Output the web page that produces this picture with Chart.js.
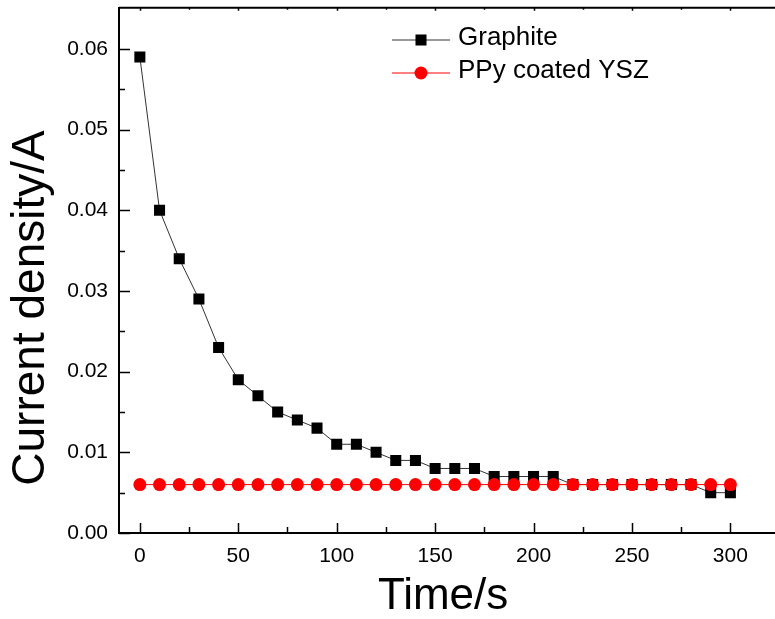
<!DOCTYPE html>
<html>
<head>
<meta charset="utf-8">
<script src="https://cdn.jsdelivr.net/npm/chart.js@4/dist/chart.umd.min.js"></script>
<style>
html, body { margin: 0; padding: 0; background: #fff; overflow: hidden; }
</style>
</head>
<body>
<canvas id="chart" width="775" height="619"></canvas>
<script>
// data
const times = [0, 10, 20, 30, 40, 50, 60, 70, 80, 90, 100, 110, 120, 130, 140, 150,
    160, 170, 180, 190, 200, 210, 220, 230, 240, 250, 260, 270, 280, 290, 300];
const graphite = [0.059, 0.040, 0.034, 0.029, 0.023, 0.019, 0.017, 0.015, 0.014, 0.013,
    0.011, 0.011, 0.010, 0.009, 0.009, 0.008, 0.008, 0.008, 0.007, 0.007, 0.007, 0.007,
    0.006, 0.006, 0.006, 0.006, 0.006, 0.006, 0.006, 0.005, 0.005];
const ppyYsz = [0.006, 0.006, 0.006, 0.006, 0.006, 0.006, 0.006, 0.006, 0.006, 0.006,
    0.006, 0.006, 0.006, 0.006, 0.006, 0.006, 0.006, 0.006, 0.006, 0.006, 0.006, 0.006,
    0.006, 0.006, 0.006, 0.006, 0.006, 0.006, 0.006, 0.006, 0.006];
const xTicks = [0, 50, 100, 150, 200, 250, 300];
const yTicks = [0, 0.01, 0.02, 0.03, 0.04, 0.05, 0.06];
const seriesNames = ['Graphite', 'PPy coated YSZ'];

const FONT = 'Liberation Sans, Arial, sans-serif';

const toXY = (ys) => times.map((t, i) => ({x: t, y: ys[i]}));

// frame lines run off the right edge like the cropped original;
// inward ticks on bottom/left, small mirror ticks on top
const frameTicks = {
    id: 'frameTicks',
    afterDraw(chart) {
        const {ctx, chartArea: a, scales: {x, y}} = chart;
        ctx.save();
        ctx.strokeStyle = '#000';
        ctx.lineWidth = 2;
        ctx.beginPath();
        ctx.moveTo(a.left, a.top);
        ctx.lineTo(chart.width, a.top);
        ctx.moveTo(a.left - 1, a.bottom);
        ctx.lineTo(chart.width, a.bottom);
        ctx.stroke();

        ctx.lineWidth = 1.5;
        const xMinor = [];
        for (let i = 0; i < xTicks.length - 1; i++) xMinor.push((xTicks[i] + xTicks[i + 1]) / 2);
        const yMinor = [];
        for (let i = 0; i < yTicks.length - 1; i++) yMinor.push((yTicks[i] + yTicks[i + 1]) / 2);

        ctx.beginPath();
        xTicks.forEach(v => {
            const px = Math.round(x.getPixelForValue(v)) + 0.5;
            ctx.moveTo(px, a.bottom); ctx.lineTo(px, a.bottom - 10);
            ctx.moveTo(px, a.top); ctx.lineTo(px, a.top + 3);
        });
        xMinor.forEach(v => {
            const px = Math.round(x.getPixelForValue(v)) + 0.5;
            ctx.moveTo(px, a.bottom); ctx.lineTo(px, a.bottom - 6);
            ctx.moveTo(px, a.top); ctx.lineTo(px, a.top + 2);
        });
        yTicks.forEach(v => {
            const py = Math.round(y.getPixelForValue(v)) + 0.5;
            ctx.moveTo(a.left, py); ctx.lineTo(a.left + 11, py);
        });
        yMinor.forEach(v => {
            const py = Math.round(y.getPixelForValue(v)) + 0.5;
            ctx.moveTo(a.left, py); ctx.lineTo(a.left + 6, py);
        });
        ctx.stroke();

        // rotated y axis title, placed as in the reference
        ctx.fillStyle = '#000';
        ctx.font = '46px ' + FONT;
        ctx.textAlign = 'center';
        ctx.textBaseline = 'middle';
        ctx.translate(31, 308);
        ctx.rotate(-Math.PI / 2);
        ctx.fillText('Current density/A', 0, 0);
        ctx.restore();
    }
};

// legend drawn with each dataset's own styles
const boxLegend = {
    id: 'boxLegend',
    afterDraw(chart) {
        const {ctx} = chart;
        const rows = [40, 73];
        ctx.save();
        chart.data.datasets.forEach((ds, i) => {
            const ly = rows[i];
            ctx.strokeStyle = ds.borderColor;
            ctx.lineWidth = ds.borderWidth;
            ctx.beginPath();
            ctx.moveTo(392, ly);
            ctx.lineTo(450, ly);
            ctx.stroke();
            ctx.fillStyle = ds.pointBackgroundColor;
            ctx.strokeStyle = ds.pointBorderColor;
            Chart.helpers.drawPoint(ctx, {
                pointStyle: ds.pointStyle,
                radius: ds.pointRadius,
                rotation: 0,
                borderWidth: 0,
            }, 421, ly);
            ctx.fillStyle = '#000';
            ctx.font = '26px ' + FONT;
            ctx.textAlign = 'left';
            ctx.textBaseline = 'middle';
            ctx.fillText(ds.label, 458, ly - 2);
        });
        ctx.restore();
    }
};

const ctx = document.getElementById('chart').getContext('2d');
new Chart(ctx, {
    type: 'line',
    data: {
        datasets: [{
            label: seriesNames[0],
            data: toXY(graphite),
            borderColor: '#333333',
            borderWidth: 1,
            pointStyle: 'rect',
            pointRadius: 7.8,
            pointBackgroundColor: '#000000',
            pointBorderColor: '#000000',
            pointBorderWidth: 0,
            tension: 0,
            order: 1,
        }, {
            label: seriesNames[1],
            data: toXY(ppyYsz),
            borderColor: '#ff0000',
            borderWidth: 1,
            pointStyle: 'circle',
            pointRadius: 6.5,
            pointBackgroundColor: '#ff0000',
            pointBorderColor: '#ff0000',
            pointBorderWidth: 0,
            tension: 0,
            order: 0,
        }],
    },
    options: {
        responsive: false,
        animation: false,
        devicePixelRatio: 1,
        layout: {padding: {top: 7, right: 0, left: 0, bottom: 0}},
        plugins: {
            legend: {display: false},
            tooltip: {enabled: false},
        },
        scales: {
            x: {
                type: 'linear',
                min: -10.6,
                max: 318.7,
                afterFit: (s) => {
                    s.height = 86;
                    s.paddingLeft = 0;
                    s.paddingRight = 0;
                },
                afterBuildTicks: (s) => { s.ticks = xTicks.map(v => ({value: v})); },
                grid: {display: false, drawTicks: false},
                border: {display: false},
                ticks: {
                    padding: 11,
                    color: '#000',
                    font: {family: FONT, size: 21},
                    maxRotation: 0,
                    callback: (v) => String(v),
                },
                title: {
                    display: true,
                    text: 'Time/s',
                    color: '#000',
                    font: {family: FONT, size: 44, lineHeight: 1},
                    padding: {top: 0, bottom: 0},
                },
            },
            y: {
                type: 'linear',
                min: 0,
                max: 0.0651,
                afterFit: (s) => {
                    s.width = 119;
                    s.paddingTop = 0;
                    s.paddingBottom = 0;
                },
                afterBuildTicks: (s) => { s.ticks = yTicks.map(v => ({value: v})); },
                grid: {display: false, drawTicks: false},
                border: {display: true, color: '#000', width: 2},
                ticks: {
                    padding: 11,
                    color: '#000',
                    font: {family: FONT, size: 21},
                    callback: (v) => Number(v).toFixed(2),
                },
            },
        },
    },
    plugins: [frameTicks, boxLegend],
});
</script>
</body>
</html>
